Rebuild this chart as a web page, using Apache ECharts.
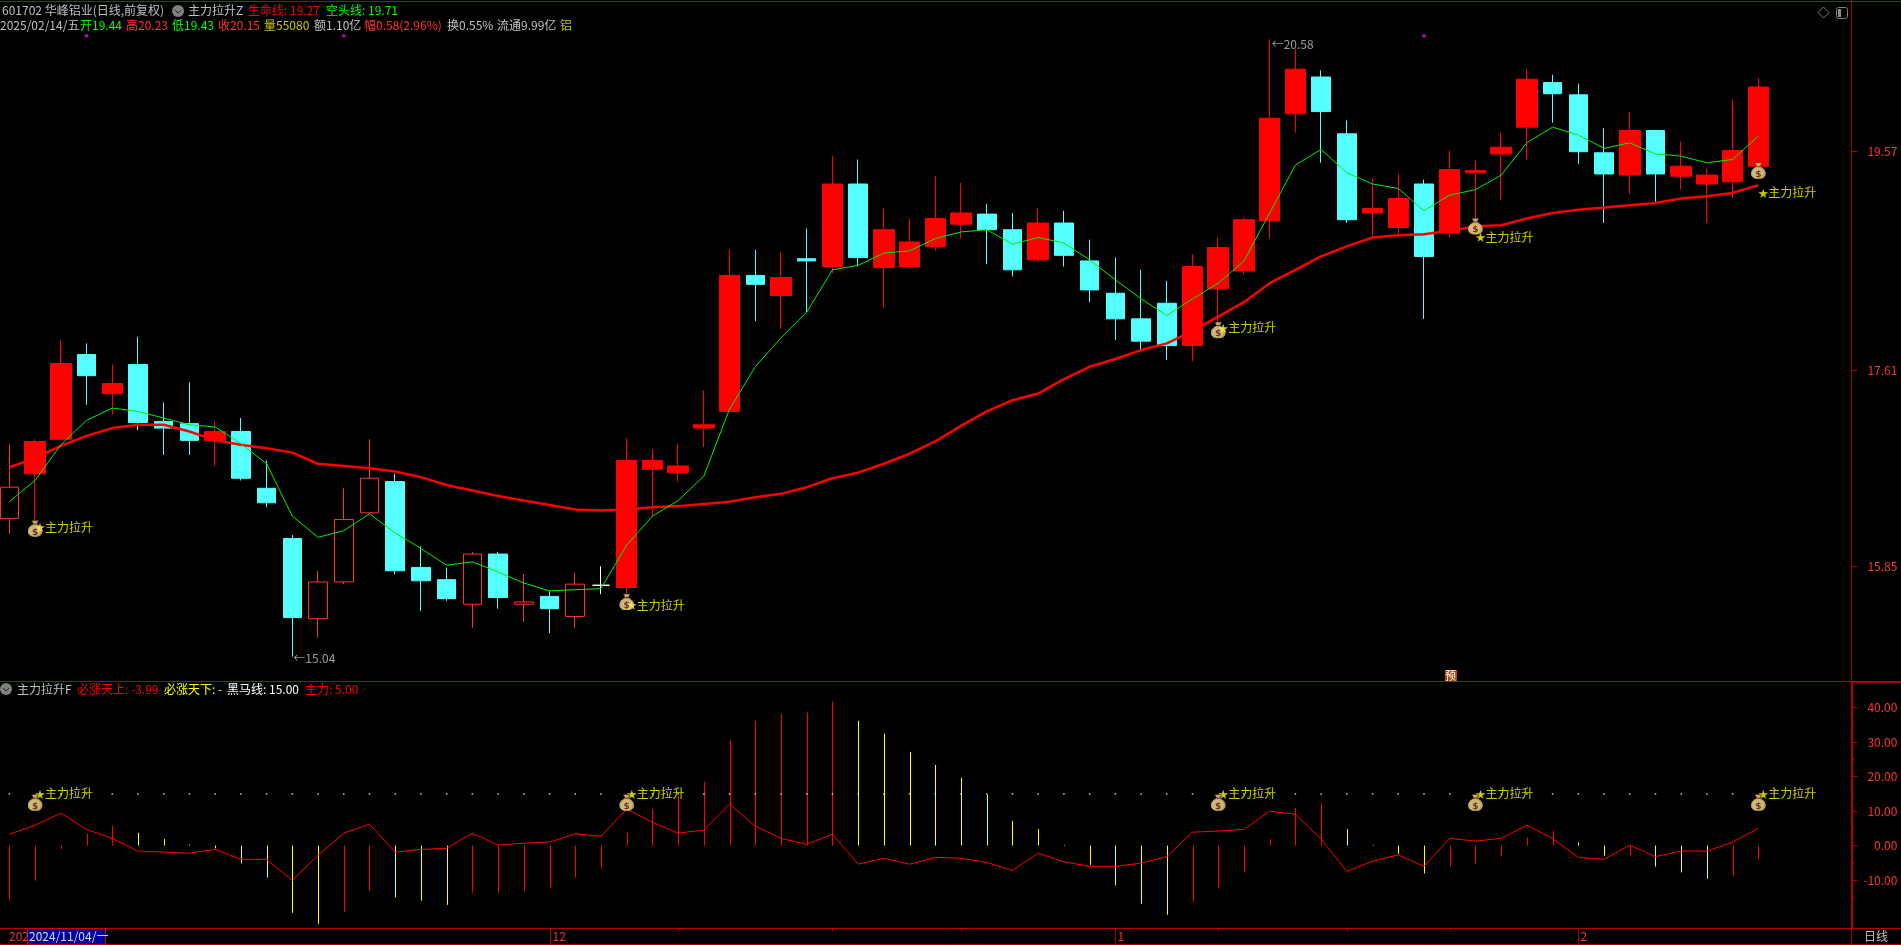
<!DOCTYPE html>
<html>
<head>
<meta charset="utf-8">
<style>
html,body{margin:0;padding:0;background:#000;overflow:hidden}
/* 容器左移10px, 让第一根K线可以贴到画面左边 */
#main{position:absolute;left:-10px;top:0;width:1911px;height:945px}
</style>
<script src="https://cdn.jsdelivr.net/npm/echarts@6/dist/echarts.min.js"></script>
</head>
<body>
<div id="main"></div>
<script>
const dates = [
  '2024/11/01','2024/11/04','2024/11/05','2024/11/06','2024/11/07','2024/11/08','2024/11/11','2024/11/12','2024/11/13','2024/11/14','2024/11/15',
  '2024/11/18','2024/11/19','2024/11/20','2024/11/21','2024/11/22','2024/11/25','2024/11/26','2024/11/27','2024/11/28','2024/11/29',
  '2024/12/02','2024/12/03','2024/12/04','2024/12/05','2024/12/06','2024/12/09','2024/12/10','2024/12/11','2024/12/12','2024/12/13',
  '2024/12/16','2024/12/17','2024/12/18','2024/12/19','2024/12/20','2024/12/23','2024/12/24','2024/12/25','2024/12/26','2024/12/27','2024/12/30','2024/12/31',
  '2025/01/02','2025/01/03','2025/01/06','2025/01/07','2025/01/08','2025/01/09','2025/01/10','2025/01/13','2025/01/14','2025/01/15','2025/01/16','2025/01/17',
  '2025/01/20','2025/01/21','2025/01/22','2025/01/23','2025/01/24','2025/01/27',
  '2025/02/05','2025/02/06','2025/02/07','2025/02/10','2025/02/11','2025/02/12','2025/02/13','2025/02/14'
]
// r 实心阳, h 空心阳, c 阴, w 十字
const kinds = [
  'h','r','r','c','r','c','c','c','r','c',
  'c','c','h','h','h','c','c','c','h','c',
  'h','c','h','w','r','r','r','r','r','c',
  'r','c','r','c','r','r','r','r','c','c',
  'r','c','c','c','c','c','r','r','r','r',
  'r','c','c','r','r','c','r','r','r','r',
  'c','c','c','r','c','r','r','r','r'
]
const opens = [16.28,16.68,16.99,17.75,17.40,17.66,17.15,17.13,16.98,17.06,16.55,16.10,15.38,15.71,16.33,16.61,15.84,15.73,15.51,15.96,15.51,15.58,15.40,15.68,15.66,16.72,16.69,17.09,17.24,18.46,18.28,18.61,18.54,19.28,18.53,18.54,18.72,18.92,19.01,18.87,18.60,18.93,18.59,18.30,18.07,18.21,17.83,18.34,18.50,18.95,19.91,20.24,19.73,19.02,18.89,19.28,18.84,19.38,19.55,19.79,20.19,20.08,19.56,19.36,19.76,19.35,19.28,19.30,19.44]
const closes = [16.56,16.97,17.67,17.56,17.49,17.14,17.09,16.98,17.06,16.64,16.42,15.39,15.71,16.27,16.64,15.81,15.72,15.56,15.96,15.57,15.53,15.47,15.69,15.68,16.80,16.80,16.75,17.12,18.46,18.38,18.44,18.59,19.28,18.62,18.87,18.76,18.97,19.02,18.87,18.51,18.93,18.64,18.33,18.07,17.87,17.83,18.54,18.71,18.96,19.87,20.31,19.93,18.96,19.06,19.15,18.63,19.41,19.40,19.61,20.22,20.09,19.57,19.37,19.76,19.37,19.44,19.36,19.58,20.15]
const lows = [16.14,16.27,16.98,17.30,17.21,17.07,16.85,16.85,16.75,16.62,16.38,15.04,15.21,15.69,16.32,15.78,15.45,15.54,15.30,15.47,15.35,15.25,15.30,15.60,15.60,16.30,16.61,16.92,17.24,18.05,17.98,18.13,18.48,18.54,18.17,18.54,18.68,18.79,18.56,18.45,18.58,18.54,18.22,17.88,17.79,17.70,17.69,18.04,18.47,18.79,19.74,19.47,18.93,18.81,18.82,18.07,18.80,18.96,19.14,19.50,19.83,19.46,18.93,19.19,19.12,19.23,18.93,19.15,19.43]
const highs = [16.95,16.99,17.88,17.85,17.66,17.91,17.32,17.50,17.15,17.18,16.80,16.13,15.81,16.55,16.99,16.68,16.03,15.84,15.98,15.98,15.78,15.63,15.79,15.85,17.00,16.90,16.95,17.43,18.69,18.69,18.67,18.88,19.53,19.50,19.06,18.97,19.35,19.29,19.10,19.02,19.06,19.04,18.78,18.62,18.51,18.41,18.65,18.80,18.98,20.58,20.49,20.30,19.85,19.33,19.37,19.32,19.58,19.49,19.74,20.31,20.26,20.18,19.78,19.93,19.76,19.66,19.42,20.04,20.23]
// 生命线
const lifeLine = [16.74,16.82,16.93,17.02,17.09,17.12,17.12,17.06,16.98,16.94,16.91,16.87,16.77,16.75,16.73,16.70,16.65,16.58,16.53,16.48,16.44,16.40,16.36,16.35,16.36,16.38,16.39,16.41,16.43,16.47,16.50,16.56,16.64,16.69,16.77,16.86,16.97,17.11,17.24,17.34,17.40,17.53,17.64,17.71,17.79,17.85,17.96,18.09,18.22,18.39,18.51,18.63,18.72,18.80,18.82,18.83,18.86,18.90,18.91,18.97,19.02,19.05,19.07,19.09,19.11,19.15,19.17,19.20,19.27]
// 空头线
const bearLine = [16.43,16.62,16.94,17.16,17.27,17.24,17.18,17.12,17.10,16.95,16.77,16.30,16.11,16.17,16.32,16.15,16.01,15.86,15.89,15.80,15.70,15.63,15.64,15.65,16.04,16.30,16.44,16.66,17.26,17.64,17.90,18.13,18.51,18.55,18.66,18.68,18.79,18.85,18.87,18.74,18.80,18.75,18.60,18.42,18.25,18.10,18.25,18.39,18.59,19.02,19.45,19.59,19.38,19.28,19.24,19.04,19.18,19.23,19.36,19.65,19.79,19.72,19.60,19.65,19.55,19.53,19.47,19.50,19.71]
// 必涨天上 / 必涨天下 柱
const histValues = [-16.0,-10.2,-1.0,3.4,5.7,3.7,1.9,0.3,-0.8,-5.2,-9.3,-19.5,-22.7,-19.2,-13.1,-15.1,-16.0,-17.2,-13.7,-13.7,-13.1,-12.2,-9.3,-6.7,3.7,10.7,14.4,18.5,30.7,36.2,38.3,38.6,41.8,36.2,32.5,27.2,23.4,19.7,14.7,7.2,4.8,0.2,-5.6,-11.6,-16.9,-20.1,-16.3,-12.2,-7.6,1.9,10.9,12.4,4.8,0.2,-2.4,-8.1,-6.1,-5.2,-3.2,2.3,4.3,0.9,-2.9,-2.9,-6.1,-7.8,-9.6,-8.7,-3.99]
const yellowBars = [5,6,7,8,9,10,11,12,15,16,17,33,34,35,36,37,38,39,40,41,42,43,44,45,52,53,54,55,61,62,64,65,66]
// 主力线
const mainForce = [3.3,5.9,9.4,4.7,2.1,-1.6,-1.9,-2.2,-1.1,-4.0,-4.0,-10.1,-2.8,3.6,6.2,-1.9,-1.1,-0.8,3.6,0.1,0.7,1.0,3.4,2.7,10.6,6.8,3.6,4.5,12.1,5.6,2.1,0.4,3.3,-5.4,-3.7,-5.4,-3.4,-3.7,-4.9,-7.2,-2.2,-4.7,-6.0,-6.0,-5.1,-3.2,3.9,4.2,4.7,10.0,9.1,1.9,-7.5,-4.5,-2.7,-6.0,2.1,1.3,2.1,5.9,2.1,-3.4,-4.0,0.1,-3.2,-1.6,-1.6,1.0,5.0]
const heimaLevel = 15
// 主力拉升信号
const signalIdx = [1,24,47,57,68]
const signalTextPrice = [16.20,15.50,17.99,18.80,19.20]
const signalBagPrice = [16.19,15.53,17.97,18.90,19.40]
const signalBagSub = [12.5,12.5,12.5,12.5,12.5]
const topDotIdx = [3,13,55]
const topDotPrice = 20.61
const priceTicks = [19.57,17.61,15.85]
const subTicks = [40,30,20,10,0,-10]
const subMinorTicks = [35,25,15,5,-5,-15]
const monthIdx = [21,43,61]
const monthLabels = ['12','1','2']
const minorDateIdx = [26,32,37,47,52,56]

const RED = '#ff0000'
const LABEL_RED = '#ff3232'
const FRAME = '#b00000'
const CYAN = '#54ffff'
const YELLOW = '#ffff00'
const GRAY = '#c0c0c0'
const FONT = '"Noto Sans CJK SC","Liberation Sans",sans-serif'
const SHIFT = 10
const STEP = 25.72
const LEFT = 9.4 - STEP / 2 + SHIFT
const SLOTS = 72

const cats = dates.concat(['', '', ''])

const bagSvg = `<svg xmlns="http://www.w3.org/2000/svg" width="30" height="34" viewBox="0 0 15 17">
<defs><radialGradient id="g" cx="45%" cy="50%" r="60%"><stop offset="0%" stop-color="#fff6c8"/><stop offset="70%" stop-color="#ffe67a"/><stop offset="100%" stop-color="#d8a028"/></radialGradient></defs>
<path d="M4.2 0.5h6.6l-1.6 3.8h-3.4z" fill="#f0d890" stroke="#5a4010" stroke-width="0.7"/>
<rect x="5" y="3.8" width="5" height="1.3" fill="#7a2a20"/>
<path d="M5.2 5C2 6.2 0.5 9 0.5 11.2C0.5 15 3.6 16.6 7.5 16.6C11.4 16.6 14.5 15 14.5 11.2C14.5 9 13 6.2 9.8 5z" fill="url(#g)" stroke="#fff2b8" stroke-width="0.7"/>
<text x="7.5" y="14.6" font-family="DejaVu Sans" font-size="9" font-weight="bold" text-anchor="middle" fill="#8c3a3a">$</text>
</svg>`
const bagSymbol = 'image://data:image/svg+xml;charset=utf-8,' + encodeURIComponent(bagSvg)

const signalLabel = {
  show: true, position: 'right', distance: 0, color: YELLOW, fontSize: 12,
  formatter: '{s|★}主力拉升',
  rich: { s: { fontSize: 10, color: YELLOW, width: 10 } },
}

function candleSeries(kind, style, width) {
  return {
    type: 'candlestick',
    xAxisIndex: 0,
    yAxisIndex: 0,
    barWidth: width,
    z: 2,
    itemStyle: Object.assign({ borderWidth: 1 }, style),
    data: dates.map((_, i) => kinds[i] === kind ? [opens[i], closes[i], lows[i], highs[i]] : ['-', '-', '-', '-']),
  }
}

function flat(color, border) {
  return {
    color, color0: color,
    borderColor: border, borderColor0: border, borderColorDoji: border,
  }
}

function txt(x, y, text, fill, extra) {
  return {
    type: 'text', x, y, silent: true, z: 50,
    style: Object.assign({ text, fill, font: '12px ' + FONT, textVerticalAlign: 'middle' }, extra || {}),
  }
}

function hline(x1, x2, y, width) {
  return { type: 'line', silent: true, z: 40, shape: { x1, y1: y, x2, y2: y }, style: { stroke: FRAME, lineWidth: width || 1 } }
}

function vline(x, y1, y2, width) {
  return { type: 'line', silent: true, z: 40, shape: { x1: x, y1, x2: x, y2 }, style: { stroke: FRAME, lineWidth: width || 1 } }
}

function foldIcon(cx, cy) {
  return [
    { type: 'circle', silent: true, z: 50, shape: { cx, cy, r: 6 }, style: { fill: '#808080' } },
    { type: 'polyline', silent: true, z: 51, shape: { points: [[cx - 3, cy - 1], [cx, cy + 2], [cx + 3, cy - 1]] }, style: { stroke: '#222', fill: null, lineWidth: 1 } },
  ]
}

const graphics = [
  hline(0, 1901, 1.5),
  hline(0, 1851, 681.5),
  hline(1851, 1901, 682, 2),
  hline(0, 1901, 928.5),
  hline(0, 1901, 944.5),
  vline(1851.5, 0, 682),
  vline(1851.5, 928, 945),
  txt(2, 10, '601702 华峰铝业(日线,前复权)', GRAY),
  ...foldIcon(178, 11),
  txt(188, 10, '主力拉升Z', GRAY),
  txt(248, 10, '生命线: 19.27', RED),
  txt(326, 10, '空头线: 19.71', '#00ff00'),
  txt(0, 25, '2025/02/14/五', GRAY),
  txt(80, 25, '开19.44', '#00ff00'),
  txt(126, 25, '高20.23', LABEL_RED),
  txt(172, 25, '低19.43', '#00ff00'),
  txt(218, 25, '收20.15', LABEL_RED),
  txt(264, 25, '量55080', '#c8c800'),
  txt(314, 25, '额1.10亿', GRAY),
  txt(364, 25, '幅0.58(2.96%)', LABEL_RED),
  txt(447, 25, '换0.55%', GRAY),
  txt(497, 25, '流通9.99亿', GRAY),
  txt(560, 25, '铝', '#c8c800'),
  ...foldIcon(6, 689),
  txt(17, 689, '主力拉升F', GRAY),
  txt(77, 689, '必涨天上: -3.99', RED),
  txt(164, 689, '必涨天下: -', YELLOW),
  txt(227, 689, '黑马线: 15.00', '#ffffff'),
  txt(305, 689, '主力: 5.00', RED),
  { type: 'polygon', silent: true, z: 50, shape: { points: [[1823.5, 7], [1829, 12.5], [1823.5, 18], [1818, 12.5]] }, style: { fill: null, stroke: '#808080' } },
  { type: 'rect', silent: true, z: 50, shape: { x: 1836.5, y: 7.5, width: 11, height: 11, r: 2 }, style: { fill: null, stroke: '#808080' } },
  { type: 'rect', silent: true, z: 50, shape: { x: 1838, y: 9, width: 3, height: 8 }, style: { fill: '#909090' } },
  { type: 'rect', silent: true, z: 50, shape: { x: 1445, y: 670, width: 12, height: 11 }, style: { fill: '#b84000' } },
  txt(1445, 675.5, '预', '#ffffff', { font: '11px ' + FONT }),
  txt(9, 936.5, '202', LABEL_RED),
  { type: 'rect', silent: true, z: 49, shape: { x: 27.5, y: 928.5, width: 78, height: 16 }, style: { fill: '#0000a0', stroke: '#d00000' } },
  txt(29, 936.5, '2024/11/04/一', '#d8d8d8'),
  txt(1864, 936.5, '日线', GRAY),
]

function markRender(params, api) {
  const idx = api.value(0)
  const major = api.value(1) === 1
  const p = api.coord([idx, 1])
  const x = Math.round(p[0]) + 0.5
  const h = api.size([0, 1])[1]
  const lineEl = {
    type: 'line',
    shape: { x1: x, y1: p[1], x2: x, y2: p[1] + (major ? h : 3) },
    style: { stroke: FRAME, lineWidth: 1 },
  }
  if (!major) return lineEl
  return {
    type: 'group',
    children: [lineEl, {
      type: 'text',
      x: x + 2, y: p[1] + h / 2 + 0.5,
      style: { text: monthLabels[monthIdx.indexOf(idx)], fill: LABEL_RED, font: '12px ' + FONT, textVerticalAlign: 'middle' },
    }],
  }
}

// 柱子画成整像素竖线, 否则1px的bar发虚
function histRender(params, api) {
  const idx = api.value(0)
  const a = api.coord([idx, 0])
  const b = api.coord([idx, api.value(1)])
  const x = Math.round(a[0]) + 0.5
  return {
    type: 'line',
    shape: { x1: x, y1: a[1], x2: x, y2: b[1] },
    style: { stroke: yellowBars.includes(idx) ? YELLOW : RED, lineWidth: 1 },
  }
}

const option = {
  backgroundColor: '#000',
  animation: false,
  textStyle: { fontFamily: FONT },
  graphic: [{ type: 'group', x: SHIFT, y: 0, children: graphics }],
  grid: [
    { left: LEFT, top: 2, width: STEP * SLOTS, height: 679 },
    { left: LEFT, top: 682, width: STEP * SLOTS, height: 246 },
    { left: LEFT, top: 928, width: STEP * SLOTS, height: 16 },
  ],
  xAxis: [0, 1, 2].map((g) => ({ type: 'category', gridIndex: g, data: cats, show: false, boundaryGap: true })),
  yAxis: [
    {
      type: 'value', gridIndex: 0, position: 'right', offset: 3, min: 14.821, max: 20.913, scale: true,
      splitLine: { show: false },
      axisLine: { show: true, lineStyle: { color: FRAME } },
      axisTick: { show: true, length: 6, customValues: priceTicks, lineStyle: { color: FRAME } },
      axisLabel: { customValues: priceTicks, color: LABEL_RED, fontSize: 12, align: 'right', margin: 46, formatter: (v) => v.toFixed(2) },
    },
    {
      type: 'value', gridIndex: 1, position: 'right', offset: 3, min: -23.92, max: 47.47, scale: true,
      splitLine: { show: false },
      axisLine: { show: true, lineStyle: { color: FRAME, width: 2 } },
      axisTick: { show: true, length: 6, customValues: subTicks, lineStyle: { color: FRAME } },
      axisLabel: { customValues: subTicks, color: LABEL_RED, fontSize: 12, align: 'right', margin: 46, formatter: (v) => v.toFixed(2) },
    },
    {
      type: 'value', gridIndex: 1, position: 'right', offset: 3, min: -23.92, max: 47.47, scale: true,
      splitLine: { show: false },
      axisLine: { show: false },
      axisTick: { show: true, length: 3, customValues: subMinorTicks, lineStyle: { color: FRAME } },
      axisLabel: { show: false },
    },
    { type: 'value', gridIndex: 2, min: 0, max: 1, show: false },
  ],
  series: [
    candleSeries('r', flat(RED, RED), 21),
    candleSeries('c', flat(CYAN, CYAN), 19),
    candleSeries('h', flat('#000000', LABEL_RED), 19),
    candleSeries('w', flat('#ffffff', '#ffffff'), 18),
    { type: 'line', xAxisIndex: 0, yAxisIndex: 0, data: lifeLine, showSymbol: false, z: 3, lineStyle: { color: RED, width: 2.5 } },
    { type: 'line', xAxisIndex: 0, yAxisIndex: 0, data: bearLine, showSymbol: false, z: 4, lineStyle: { color: '#00f000', width: 1 } },
    {
      type: 'scatter', xAxisIndex: 0, yAxisIndex: 0, symbol: 'rect', symbolSize: 3, z: 4,
      itemStyle: { color: '#ff00ff' },
      data: topDotIdx.map((i) => [i, topDotPrice]),
    },
    {
      // 最高最低价标注
      type: 'scatter', xAxisIndex: 0, yAxisIndex: 0, symbolSize: 0, z: 6,
      label: { show: true, position: 'right', distance: 0, color: GRAY, fontSize: 12, formatter: (p) => '←' + p.value[1].toFixed(2) },
      data: [
        { value: [11, 15.04], label: { offset: [1, 1.5] } },
        { value: [49, 20.58], label: { offset: [2, 5] } },
      ],
    },
    {
      type: 'scatter', xAxisIndex: 0, yAxisIndex: 0, symbolSize: 0, z: 6,
      label: signalLabel,
      data: signalIdx.map((idx, k) => [idx, signalTextPrice[k]]),
    },
    {
      type: 'scatter', xAxisIndex: 0, yAxisIndex: 0, symbol: bagSymbol, symbolSize: [15, 17], z: 10,
      data: signalIdx.map((idx, k) => [idx, signalBagPrice[k]]),
    },
    {
      type: 'custom', xAxisIndex: 1, yAxisIndex: 1, renderItem: histRender, silent: true, z: 2,
      encode: { x: 0, y: 1 },
      data: histValues.map((v, i) => [i, v]),
    },
    { type: 'line', xAxisIndex: 1, yAxisIndex: 1, data: mainForce, showSymbol: false, z: 4, lineStyle: { color: RED, width: 1 } },
    {
      type: 'scatter', xAxisIndex: 1, yAxisIndex: 1, symbol: 'rect', symbolSize: 1.5, z: 3,
      itemStyle: { color: '#ffffff' },
      data: dates.map((_, i) => i).filter((i) => !signalIdx.includes(i)).map((i) => [i, heimaLevel]),
    },
    {
      type: 'scatter', xAxisIndex: 1, yAxisIndex: 1, symbolSize: 0, z: 6,
      label: signalLabel,
      data: signalIdx.map((idx) => [idx, heimaLevel]),
    },
    {
      type: 'scatter', xAxisIndex: 1, yAxisIndex: 1, symbol: bagSymbol, symbolSize: [15, 17], z: 10,
      data: signalIdx.map((idx, k) => [idx, signalBagSub[k]]),
    },
    {
      type: 'custom', xAxisIndex: 2, yAxisIndex: 3, renderItem: markRender, silent: true,
      encode: { x: 0, y: 1 },
      data: monthIdx.map((i) => [i, 1]).concat(minorDateIdx.map((i) => [i, 0])),
    },
  ],
}

const chart = echarts.init(document.getElementById('main'))
chart.setOption(option)
</script>
</body>
</html>
